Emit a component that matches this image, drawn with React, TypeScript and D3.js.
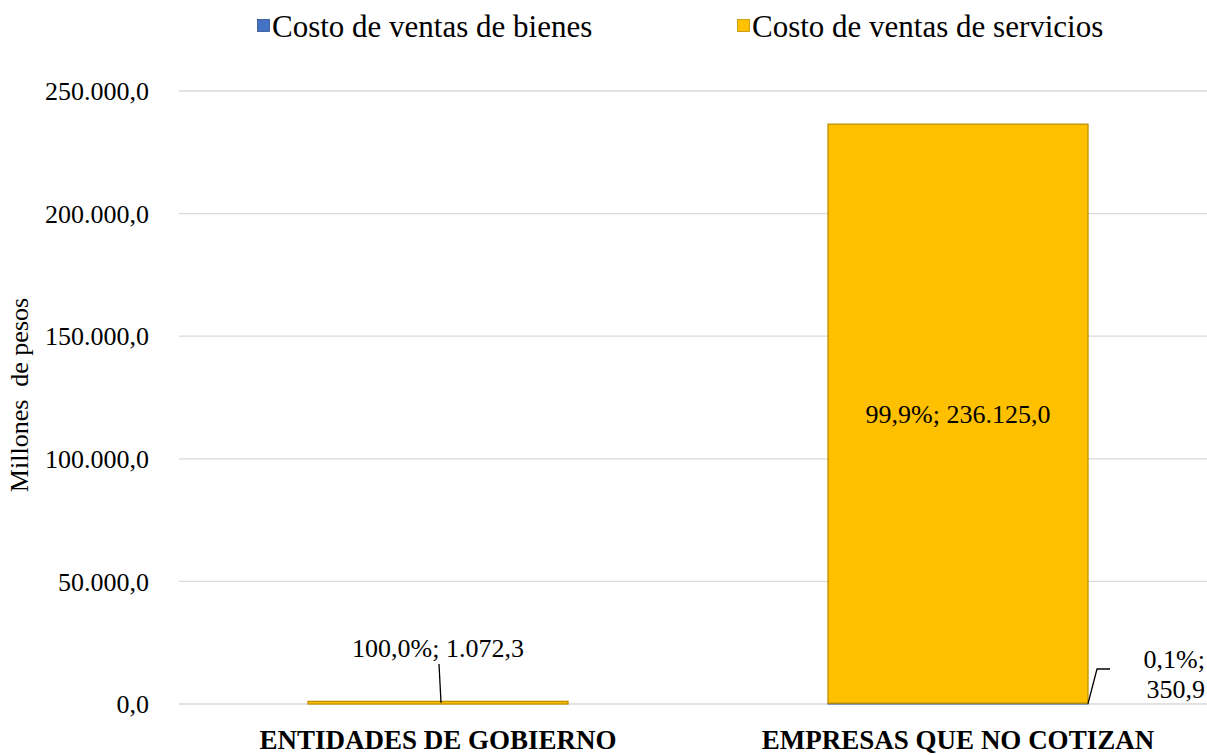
import React from "react";
import * as d3 from "d3";

const categories = ["ENTIDADES DE GOBIERNO", "EMPRESAS QUE NO COTIZAN"];
const seriesNames = ["Costo de ventas de bienes", "Costo de ventas de servicios"];
const bienes = [0, 350.9];
const servicios = [1072.3, 236125.0];
const yTicks = [0, 50000, 100000, 150000, 200000, 250000];

const W = 1207;
const H = 755;
const colors = ["#4472C4", "#FFC000"];
const strokes = ["#2F528F", "#BF9000"];

const fmt = (v: number, dec = 1) => {
  const s = v.toFixed(dec);
  const [i, d] = s.split(".");
  const ii = i.replace(/\B(?=(\d{3})+(?!\d))/g, ".");
  return d ? `${ii},${d}` : ii;
};

export default function App() {
  const x = d3.scaleBand<string>().domain(categories).range([178, 1218]).paddingInner(0.5).paddingOuter(0.25);
  const y = d3.scaleLinear().domain([0, 250000]).range([704, 91]);
  const font = "'Liberation Serif', 'Times New Roman', serif";
  const rows = categories.map((c, i) => ({ c, b: bienes[i], s: servicios[i], t: bienes[i] + servicios[i] }));
  const bw = x.bandwidth();

  return (
    <svg width={W} height={H} style={{ position: "absolute", left: 0, top: 0, background: "#fff" }} fontFamily={font}>
      {/* legend */}
      <rect x={257.5} y={19.5} width={12} height={12} fill={colors[0]} stroke={strokes[0]} strokeWidth={0.8} />
      <text x={272} y={37} fontSize={31} fill="#000">{seriesNames[0]}</text>
      <rect x={737.5} y={19.5} width={12} height={12} fill={colors[1]} stroke={strokes[1]} strokeWidth={0.8} />
      <text x={752} y={37} fontSize={31} fill="#000">{seriesNames[1]}</text>

      {/* grid & ticks */}
      {yTicks.map((t) => (
        <g key={t}>
          <line x1={179} x2={W} y1={y(t)} y2={y(t)} stroke="#d9d9d9" strokeWidth={1.3} />
          <text x={149} y={y(t)} dy="0.35em" textAnchor="end" fontSize={26}>{fmt(t)}</text>
        </g>
      ))}

      <text transform={`translate(28,395) rotate(-90)`} textAnchor="middle" fontSize={26} xmlSpace="preserve">Millones  de pesos</text>

      {/* bars */}
      {rows.map((r) => {
        const x0 = x(r.c)!;
        return (
          <g key={r.c}>
            {r.b > 0 && (
              <rect x={x0} y={y(r.b)} width={bw} height={y(0) - y(r.b)} fill={colors[0]} stroke={strokes[0]} strokeWidth={1} />
            )}
            <rect x={x0} y={y(r.b + r.s)} width={bw} height={y(r.b) - y(r.b + r.s)} fill={colors[1]} stroke={strokes[1]} strokeWidth={1.3} />
          </g>
        );
      })}

      {/* data labels */}
      {(() => {
        const r0 = rows[0];
        const cx0 = x(r0.c)! + bw / 2;
        const r1 = rows[1];
        const cx1 = x(r1.c)! + bw / 2;
        const x1r = x(r1.c)! + bw;
        return (
          <g fontSize={26}>
            <text x={cx0} y={657} textAnchor="middle">{`${fmt((r0.s / r0.t) * 100)}%; ${fmt(r0.s)}`}</text>
            <line x1={cx0 + 1} y1={664} x2={cx0 + 3} y2={y(r0.b + r0.s / 2)} stroke="#000" strokeWidth={1.3} />
            <text x={cx1} y={(y(r1.b) + y(r1.t)) / 2} dy="0.35em" textAnchor="middle">{`${fmt((r1.s / r1.t) * 100)}%; ${fmt(r1.s)}`}</text>
            <text x={1205} y={668} textAnchor="end">{`${fmt((r1.b / r1.t) * 100)}%;`}</text>
            <text x={1205} y={698} textAnchor="end">{fmt(r1.b)}</text>
            <polyline points={`${x1r},${y(r1.b / 2)} ${x1r + 9},${669} ${x1r + 22},${669}`} fill="none" stroke="#000" strokeWidth={1.3} />
          </g>
        );
      })()}

      {/* category labels */}
      {categories.map((c) => (
        <text key={c} x={x(c)! + bw / 2} y={749} textAnchor="middle" fontSize={27} fontWeight="bold">{c}</text>
      ))}
    </svg>
  );
}
